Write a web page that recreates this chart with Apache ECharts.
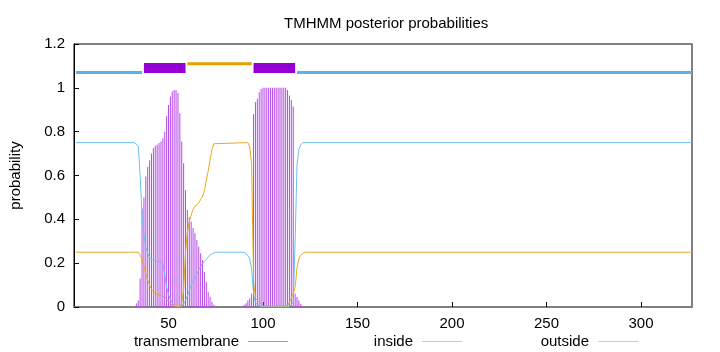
<!DOCTYPE html>
<html><head><meta charset="utf-8">
<script src="https://cdn.jsdelivr.net/npm/echarts@6/dist/echarts.min.js"></script>
<style>html,body{margin:0;padding:0;background:#fff}#c{width:720px;height:352px}</style>
</head><body><div id="c"></div>
<script>
// ---- data ----
const seqLength = 327;
const yTicks = [0, 0.2, 0.4, 0.6, 0.8, 1, 1.2];

// transmembrane posterior (impulses), zero elsewhere
const tmSegStart = [33, 89];
const tmSeg1 = [0.017,0.03,0.13,0.45,0.50,0.595,0.64,0.67,0.70,0.725,0.735,0.74,0.748,0.755,0.77,0.80,0.87,0.922,0.96,0.983,0.99,0.99,0.976,0.884,0.755,0.656,0.534,0.443,0.41,0.39,0.36,0.336,0.306,0.275,0.245,0.215,0.16,0.115,0.07,0.047,0.024,0.01,0.005];
const tmSeg2 = [0.005,0.01,0.017,0.03,0.04,0.062,0.88,0.935,0.95,0.98,0.995,1,1,1,1,1,1,1,1,1,1,1,1,1,0.99,0.965,0.945,0.915,0.062,0.046,0.03,0.015,0.005];

// inside posterior (residue, value) at change points
const insideRes = [1,32,33,34,35,36,37,38,39,40,41,42,43,44,45,46,47,48,49,50,51,52,53,54,55,56,57,58,59,60,61,62,63,64,65,66,67,68,69,70,71,72,73,74,75,90,91,92,93,94,95,96,97,98,99,114,115,116,117,118,119,120,121,327];
const insideVal = [0.75,0.75,0.745,0.735,0.6,0.42,0.33,0.27,0.245,0.225,0.218,0.213,0.21,0.208,0.207,0.205,0.195,0.15,0.09,0.058,0.035,0.018,0.008,0.003,0.002,0.002,0.005,0.015,0.03,0.05,0.075,0.1,0.115,0.13,0.15,0.17,0.185,0.197,0.207,0.217,0.228,0.236,0.243,0.248,0.25,0.25,0.245,0.235,0.22,0.17,0.06,0.02,0.01,0.005,0.002,0.002,0.005,0.02,0.3,0.65,0.72,0.74,0.75,0.75];

// outside posterior (residue, value) at change points
const outsideRes = [1,34,35,36,37,38,39,40,41,42,43,44,45,46,47,48,49,50,51,52,53,54,56,57,58,59,60,61,62,63,64,65,66,67,68,69,70,71,72,73,74,75,92,93,94,95,96,97,98,99,100,113,114,115,116,117,118,119,120,121,122,327];
const outsideVal = [0.25,0.25,0.245,0.22,0.185,0.15,0.122,0.1,0.08,0.07,0.062,0.057,0.055,0.053,0.05,0.045,0.035,0.025,0.015,0.008,0.004,0.002,0.002,0.02,0.08,0.25,0.34,0.39,0.42,0.445,0.46,0.468,0.475,0.49,0.505,0.53,0.58,0.62,0.67,0.72,0.745,0.75,0.75,0.73,0.65,0.12,0.04,0.03,0.025,0.015,0.005,0.005,0.01,0.04,0.06,0.09,0.18,0.22,0.237,0.245,0.25,0.25];

// predicted topology (top bar)
const regionType = ['inside','TMhelix','outside','TMhelix','inside'];
const regionStart = [1,37,60,95,118];
const regionEnd = [36,59,94,117,327];

// ---- build chart ----
const FONT = "'Liberation Sans', Arial, Helvetica, sans-serif";
const C_TM = '#b64ae6', C_IN = '#6cc0ee', C_OUT = '#eaa820';
const tmData = [];
[tmSeg1, tmSeg2].forEach((seg, k) => seg.forEach((v, i) => tmData.push([tmSegStart[k] + i, v])));
const inData = insideRes.map((r, i) => [r, insideVal[i]]);
const outData = outsideRes.map((r, i) => [r, outsideVal[i]]);

const regionStyle = {
  inside: {y: 1.07, color: '#56b4e9', width: 3},
  outside: {y: 1.11, color: '#e69f00', width: 3},
  TMhelix: {y: 1.09, color: '#9400d3', width: 10}
};
const topSeries = regionType.map((t, i) => ({
  name: 'region' + i, type: 'line', silent: true, showSymbol: false, animation: false, z: 5,
  data: [[regionStart[i], regionStyle[t].y], [regionEnd[i], regionStyle[t].y]],
  lineStyle: {color: regionStyle[t].color, width: regionStyle[t].width, cap: 'butt'},
  itemStyle: {color: regionStyle[t].color}
}));

const legendBase = {
  orient: 'horizontal', align: 'right', icon: 'rect', itemWidth: 40, itemHeight: 1,
  top: 329, selectedMode: false,
  textStyle: {fontFamily: FONT, fontSize: 15, color: '#000', padding: [0, 4, 0, 0]}
};

const chart = echarts.init(document.getElementById('c'), null, {renderer: 'canvas'});
chart.setOption({
  animation: false,
  backgroundColor: '#fff',
  title: {text: 'TMHMM posterior probabilities', left: 279, top: 11,
    textStyle: {fontFamily: FONT, fontSize: 15, fontWeight: 'normal', color: '#000'}},
  legend: [
    Object.assign({}, legendBase, {right: 427, data: [{name: 'transmembrane', itemStyle: {color: '#c27fe6'}}]}),
    Object.assign({}, legendBase, {right: 253, data: [{name: 'inside', itemStyle: {color: '#a6d5ee'}}]}),
    Object.assign({}, legendBase, {right: 77, data: [{name: 'outside', itemStyle: {color: '#f2c878'}}]})
  ],
  grid: {left: 73, right: 28, top: 44, bottom: 45, show: true, borderColor: '#000', borderWidth: 1},
  xAxis: {
    type: 'value', min: 0, max: seqLength, interval: 50,
    axisLine: {show: true, onZero: false, lineStyle: {color: '#808080', width: 2}},
    axisTick: {show: true, inside: true, length: 5, lineStyle: {color: '#000'}},
    axisLabel: {showMinLabel: false, showMaxLabel: false, margin: 9, fontFamily: FONT, fontSize: 15, color: '#000'},
    splitLine: {show: false}
  },
  yAxis: [{
    type: 'value', min: yTicks[0], max: yTicks[yTicks.length - 1], interval: 0.2,
    name: 'probability', nameLocation: 'middle', nameGap: 51, nameRotate: 90,
    nameTextStyle: {fontFamily: FONT, fontSize: 15, color: '#000'},
    axisLine: {show: true, lineStyle: {color: '#000', width: 1}},
    axisTick: {show: true, inside: true, length: 5, lineStyle: {color: '#000'}},
    axisLabel: {margin: 9, fontFamily: FONT, fontSize: 15, color: '#000'},
    splitLine: {show: false}
  }, {
    type: 'value', min: 0, max: 1.2, position: 'right',
    axisLine: {show: true, lineStyle: {color: '#808080', width: 2}},
    axisTick: {show: false}, axisLabel: {show: false}, splitLine: {show: false}
  }],
  series: [
    {name: 'transmembrane', type: 'bar', data: tmData, barWidth: 1, z: 2,
      itemStyle: {color: C_TM}, animation: false},
    {name: 'inside', type: 'line', data: inData, showSymbol: false, z: 3,
      lineStyle: {color: C_IN, width: 1}, itemStyle: {color: C_IN}},
    {name: 'outside', type: 'line', data: outData, showSymbol: false, z: 3,
      lineStyle: {color: C_OUT, width: 1}, itemStyle: {color: C_OUT}}
  ].concat(topSeries)
});
</script></body></html>
